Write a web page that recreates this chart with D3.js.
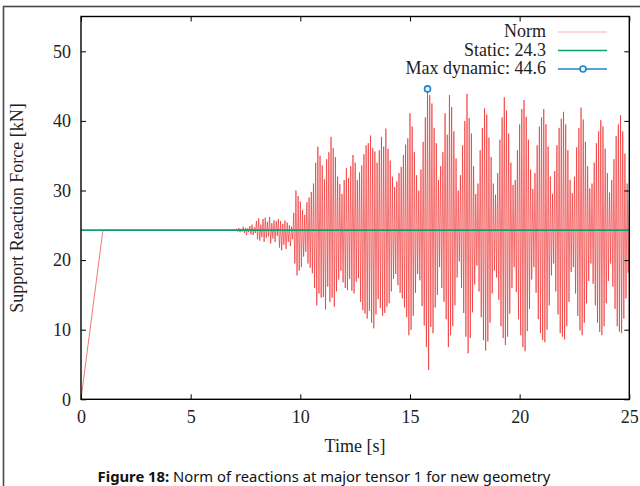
<!DOCTYPE html>
<html>
<head>
<meta charset="utf-8">
<script src="https://cdn.jsdelivr.net/npm/d3@7"></script>
<style>
  html, body { margin: 0; padding: 0; background: #fff; }
  svg { display: block; }
</style>
</head>
<body>
<svg id="chart" width="640" height="486"></svg>
<script>
// ---------------- data ----------------
const xTicks = [0, 5, 10, 15, 20, 25];
const yTicks = [0, 10, 20, 30, 40, 50];
const legendLabels = ["Norm", "Static: 24.3", "Max dynamic: 44.6"];

// initial ramp of the norm of reactions
const rampTime = [0, 1.0, 7.0];
const rampForce = [0, 24.3, 24.3];

// dynamic part, sampled every 0.05 s from 7.0 s to 25.0 s
const sampleStart = 7.0;
const sampleStep = 0.05;
const normForce = [
  // 7.0 - 7.95
  24.4,24.2,24.5,24.1,24.6,24.0,24.5,24.1,24.8,23.9,24.6,23.6,24.6,24.0,24.9,23.7,25.1,23.6,24.7,23.9,
  // 8.0 - 8.95
  25.6,23.0,26.0,22.8,25.1,23.3,25.9,22.6,26.1,23.2,25.5,23.4,26.2,22.4,25.3,23.1,25.7,22.6,25.6,23.5,
  // 9.0 - 9.95
  25.9,21.8,25.6,21.4,25.2,22.2,25.7,21.6,25.4,22.6,25.0,22.0,24.8,23.0,26.8,19.5,30.0,17.8,29.2,18.5,
  // 10.0 - 10.95
  28.4,19.0,27.2,20.5,26.5,21.2,28.3,19.5,29.0,18.9,29.8,18.1,31.0,16.0,34.0,13.5,36.3,15.2,35.0,14.6,
  // 11.0 - 11.95
  33.6,14.7,31.6,12.9,34.5,16.2,35.5,14.0,37.7,14.6,36.1,13.3,34.8,15.5,32.0,17.2,30.9,18.5,29.5,16.8,
  // 12.0 - 12.95
  31.5,16.0,33.2,15.7,31.8,17.3,33.5,15.6,35.1,15.2,34.0,16.9,31.5,17.4,32.6,14.0,33.6,12.8,35.2,12.3,
  // 13.0 - 13.95
  36.5,11.6,36.8,12.7,37.9,11.0,36.1,10.2,35.6,12.2,34.0,14.4,35.8,13.1,37.7,12.0,36.3,12.4,38.9,13.3,
  // 14.0 - 14.95
  36.0,13.8,34.3,15.5,32.0,17.3,30.5,18.0,31.3,16.4,32.5,15.3,33.4,14.5,35.1,13.2,36.6,11.8,37.5,9.2,
  // 15.0 - 15.95
  41.1,10.0,39.2,12.0,35.5,15.3,32.2,18.0,30.0,17.1,33.0,13.4,37.0,10.6,40.5,7.5,44.6,4.2,43.7,10.4,
  // 16.0 - 16.95
  42.5,9.5,39.0,13.2,36.8,15.0,31.5,19.0,33.5,16.0,35.5,14.0,41.1,11.5,38.0,7.5,43.7,9.2,42.0,10.5,
  // 17.0 - 17.95
  38.5,13.5,34.6,17.5,30.0,19.8,32.2,16.0,36.5,12.4,40.0,9.0,43.9,6.6,40.4,8.8,38.2,12.5,33.5,16.5,
  // 18.0 - 18.95
  29.5,19.2,31.0,15.5,35.8,11.8,39.0,8.5,41.8,7.0,40.9,8.3,37.6,11.0,34.8,15.2,31.0,18.5,29.4,17.5,
  // 19.0 - 19.95
  32.5,14.3,37.3,10.5,40.5,8.8,43.4,7.8,41.5,9.0,38.2,12.3,34.0,16.0,30.8,19.0,31.5,15.4,35.8,11.5,
  // 20.0 - 20.95
  39.5,9.2,41.7,7.5,43.0,6.9,40.6,9.8,37.3,13.0,33.0,17.2,30.2,19.0,32.5,15.3,36.5,11.5,39.2,9.5,
  // 21.0 - 21.95
  40.5,8.5,41.7,8.2,39.5,10.0,36.3,13.5,32.0,17.8,29.5,19.5,32.8,15.5,36.5,12.2,39.0,9.5,40.3,9.0,
  // 22.0 - 22.95
  41.3,8.6,39.5,10.5,35.8,14.0,31.5,18.3,29.6,19.0,32.0,15.2,36.2,12.0,39.0,9.9,41.9,9.2,40.2,11.0,
  // 23.0 - 23.95
  37.0,13.8,33.5,17.0,30.3,19.5,31.0,16.6,34.0,13.5,36.8,11.0,38.5,9.7,40.1,9.2,39.2,10.5,36.0,13.8,
  // 24.0 - 24.95
  32.5,17.0,29.7,19.5,31.5,16.2,34.5,13.0,37.8,10.5,39.5,9.7,40.8,9.5,38.5,11.6,35.3,14.5,31.0,18.2,
  // 25.0
  28.6
];

const staticForce = 24.3;
const maxTime = [15.8];
const maxForce = [44.6];

// ---------------- layout ----------------
const svg = d3.select("#chart");
const plot = { left: 81, right: 629.3, top: 16.5, bottom: 399.3 };
const serif = "'Liberation Serif', 'Times New Roman', serif";

const x = d3.scaleLinear().domain([0, 25]).range([plot.left, plot.right]);
const y = d3.scaleLinear().domain([0, 55]).range([plot.bottom, plot.top]);

// outer figure frame
svg.append("rect")
  .attr("x", 3.5).attr("y", 6.5)
  .attr("width", 660).attr("height", 500)
  .attr("fill", "none").attr("stroke", "#4a4a4a").attr("stroke-width", 1.6);

// combined norm series
const normSeries = rampTime.map((t, i) => ({ t, v: rampForce[i] }))
  .concat(normForce.map((v, i) => ({ t: sampleStart + i * sampleStep, v })));

svg.append("defs").append("clipPath").attr("id", "clip")
  .append("rect")
  .attr("x", plot.left).attr("y", plot.top)
  .attr("width", plot.right - plot.left).attr("height", plot.bottom - plot.top);

const data = svg.append("g").attr("clip-path", "url(#clip)");

const line = d3.line().x(d => x(d.t)).y(d => y(d.v));

data.append("path")
  .datum(normSeries)
  .attr("d", line)
  .attr("fill", "none")
  .attr("stroke", "#ee1c1c")
  .attr("stroke-opacity", 0.6)
  .attr("stroke-width", 1);

// static line
data.append("line")
  .attr("x1", x(0)).attr("x2", x(25))
  .attr("y1", y(staticForce)).attr("y2", y(staticForce))
  .attr("stroke", "#0f9d73").attr("stroke-width", 1.6);

// max dynamic point
svg.selectAll("circle.maxpt")
  .data(maxTime.map((t, i) => ({ t, v: maxForce[i] })))
  .enter().append("circle")
  .attr("class", "maxpt")
  .attr("cx", d => x(d.t)).attr("cy", d => y(d.v))
  .attr("r", 3)
  .attr("fill", "#e8f3fb")
  .attr("stroke", "#2382c4").attr("stroke-width", 1.6);

// ---------------- axes ----------------
function styleAxis(g) {
  g.select(".domain").remove();
  g.selectAll(".tick line").attr("stroke", "#000").attr("stroke-width", 1);
  g.selectAll(".tick text")
    .attr("fill", "#222")
    .style("font-family", serif)
    .style("font-size", "18px");
}

svg.append("g")
  .attr("transform", `translate(0,${plot.bottom})`)
  .call(d3.axisBottom(x).tickValues(xTicks).tickSizeInner(-5).tickSizeOuter(0).tickPadding(11).tickFormat(d3.format("d")))
  .call(styleAxis);

svg.append("g")
  .attr("transform", `translate(0,${plot.top})`)
  .call(d3.axisTop(x).tickValues(xTicks).tickSizeInner(-5).tickSizeOuter(0).tickFormat(""))
  .call(styleAxis);

svg.append("g")
  .attr("transform", `translate(${plot.left},0)`)
  .call(d3.axisLeft(y).tickValues(yTicks).tickSizeInner(-5).tickSizeOuter(0).tickPadding(10).tickFormat(d3.format("d")))
  .call(styleAxis);

svg.append("g")
  .attr("transform", `translate(${plot.right},0)`)
  .call(d3.axisRight(y).tickValues(yTicks).tickSizeInner(-5).tickSizeOuter(0).tickFormat(""))
  .call(styleAxis);

// plot border
svg.append("rect")
  .attr("x", plot.left).attr("y", plot.top)
  .attr("width", plot.right - plot.left).attr("height", plot.bottom - plot.top)
  .attr("fill", "none").attr("stroke", "#000").attr("stroke-width", 1.4);

// axis titles
svg.append("text")
  .attr("x", 355).attr("y", 452)
  .attr("text-anchor", "middle")
  .style("font-family", serif).style("font-size", "18px").attr("fill", "#222")
  .text("Time [s]");

svg.append("text")
  .attr("transform", "translate(23,208) rotate(-90)")
  .attr("text-anchor", "middle")
  .style("font-family", serif).style("font-size", "18px").attr("fill", "#222")
  .text("Support Reaction Force [kN]");

// ---------------- legend ----------------
const legendY = [32, 50.5, 69];
const legend = svg.append("g");
legendLabels.forEach((lab, i) => {
  legend.append("text")
    .attr("x", 546).attr("y", legendY[i])
    .attr("dy", "0.3em")
    .attr("text-anchor", "end")
    .style("font-family", serif).style("font-size", "18px").attr("fill", "#222")
    .text(lab);
});
legend.append("line")
  .attr("x1", 558).attr("x2", 607).attr("y1", legendY[0]).attr("y2", legendY[0])
  .attr("stroke", "#ee1c1c").attr("stroke-opacity", 0.35).attr("stroke-width", 1.2);
legend.append("line")
  .attr("x1", 558).attr("x2", 607).attr("y1", legendY[1]).attr("y2", legendY[1])
  .attr("stroke", "#0f9d73").attr("stroke-width", 1.6);
legend.append("line")
  .attr("x1", 558).attr("x2", 607).attr("y1", legendY[2]).attr("y2", legendY[2])
  .attr("stroke", "#2382c4").attr("stroke-width", 1.6);
legend.append("circle")
  .attr("cx", 583).attr("cy", legendY[2]).attr("r", 3)
  .attr("fill", "#e8f3fb").attr("stroke", "#2382c4").attr("stroke-width", 1.6);

// ---------------- caption ----------------
const cap = svg.append("text")
  .attr("x", 324).attr("y", 482)
  .attr("text-anchor", "middle")
  .style("font-family", "'Noto Sans', 'Open Sans', sans-serif")
  .style("font-size", "14.8px").attr("fill", "#111");
cap.append("tspan").attr("font-weight", "bold").text("Figure 18:");
cap.append("tspan").text(" Norm of reactions at major tensor 1 for new geometry");
</script>
</body>
</html>
